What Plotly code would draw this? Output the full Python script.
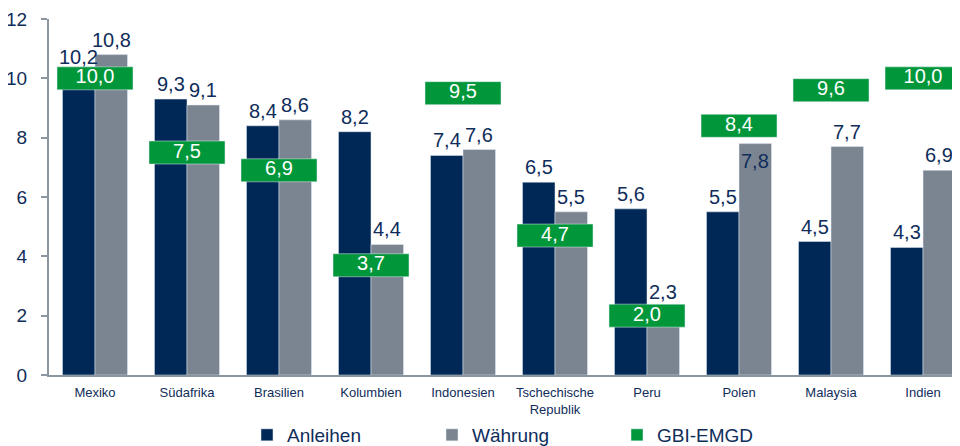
import plotly.graph_objects as go

categories = ["Mexiko", "Südafrika", "Brasilien", "Kolumbien", "Indonesien",
              "Tschechische<br>Republik", "Peru", "Polen", "Malaysia", "Indien"]
anleihen = [10.2, 9.3, 8.4, 8.2, 7.4, 6.5, 5.6, 5.5, 4.5, 4.3]
waehrung = [10.8, 9.1, 8.6, 4.4, 7.6, 5.5, 2.3, 7.8, 7.7, 6.9]
gbi_emgd = [10.0, 7.5, 6.9, 3.7, 9.5, 4.7, 2.0, 8.4, 9.6, 10.0]
y_ticks = [0, 2, 4, 6, 8, 10, 12]

NAVY = "#002856"
GRAY = "#7b8591"
GREEN = "#00973b"
TXT = "#0f2d5a"
FONT = "Liberation Sans, Arial, sans-serif"


def fmt(v):
    return f"{v:.1f}".replace(".", ",")


box_h = 0.775  # green box height in data units
fig = go.Figure()

fig.add_trace(go.Bar(name="Anleihen", x=categories, y=anleihen, marker_color=NAVY))
fig.add_trace(go.Bar(name="Währung", x=categories, y=waehrung, marker_color=GRAY))
fig.add_trace(go.Bar(
    name="GBI-EMGD", x=categories, y=[box_h] * len(gbi_emgd),
    base=[v - box_h / 2 for v in gbi_emgd], width=0.826,
    marker_color=GREEN, yaxis="y2", hoverinfo="skip",
))
fig.add_trace(go.Scatter(
    x=categories, y=gbi_emgd, mode="text", yaxis="y2",
    text=[fmt(v) for v in gbi_emgd],
    textposition="middle center",
    textfont=dict(size=20, color="white", family=FONT),
    showlegend=False, cliponaxis=False, hoverinfo="skip",
))

annotations = []
for c, a, w in zip(categories, anleihen, waehrung):
    annotations.append(dict(x=c, y=a, xref="x", yref="y", text=fmt(a),
                            showarrow=False, xshift=-16.25, yanchor="bottom",
                            yshift=2, font=dict(size=20, color=TXT, family=FONT)))
    if c == "Polen":
        annotations.append(dict(x=c, y=w, xref="x", yref="y", text=fmt(w),
                                showarrow=False, xshift=16.25, yanchor="top",
                                yshift=-4, font=dict(size=20, color=TXT, family=FONT)))
    else:
        annotations.append(dict(x=c, y=w, xref="x", yref="y", text=fmt(w),
                                showarrow=False, xshift=16.25, yanchor="bottom",
                                yshift=2, font=dict(size=20, color=TXT, family=FONT)))

# page body has an 8px default margin, so the figure is sized/placed to compensate
fig.update_layout(
    width=952, height=438,
    margin=dict(l=41, r=0, t=11, b=71, autoexpand=False),
    paper_bgcolor="white", plot_bgcolor="white",
    barmode="group", bargap=0.293, bargroupgap=0,
    font=dict(family=FONT, color=TXT),
    showlegend=True,
    annotations=annotations,
    legend=dict(orientation="h", x=(239 - 41) / 911, xanchor="left",
                y=-0.1685, yanchor="middle",
                font=dict(size=19, color=TXT, family=FONT),
                entrywidth=140, entrywidthmode="pixels",
                traceorder="normal", itemclick=False),
    xaxis=dict(range=[-0.5, 9.402], showline=True, linecolor="#8c96a0",
               linewidth=2, ticks="", showgrid=False, automargin=False,
               tickfont=dict(size=13, color=TXT, family=FONT),
               ticklabelstandoff=4),
    yaxis=dict(range=[0, 12], tickvals=y_ticks, showline=True,
               linecolor="#8c96a0", linewidth=2, ticks="outside",
               ticklen=6, tickcolor="#8c96a0", tickwidth=2,
               showgrid=False, zeroline=False, automargin=False,
               tickfont=dict(size=19, color=TXT, family=FONT),
               ticklabelstandoff=10),
    yaxis2=dict(range=[0, 12], overlaying="y", visible=False, automargin=False),
)

fig.write_html("out.html")
